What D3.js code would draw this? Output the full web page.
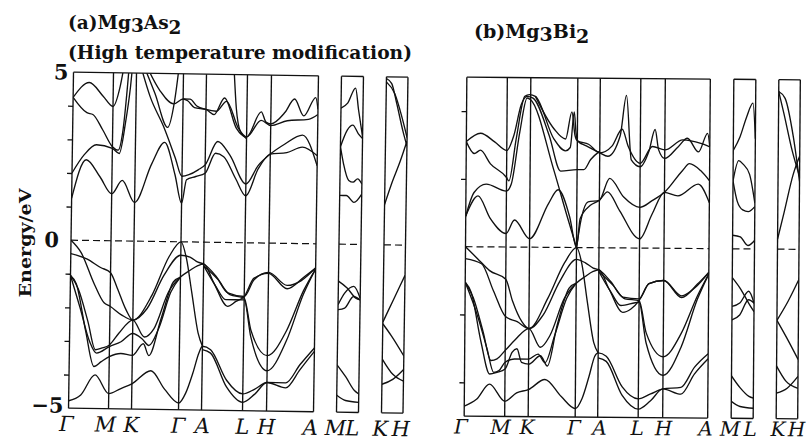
<!DOCTYPE html>
<html>
<head>
<meta charset="utf-8" />
<script src="https://d3js.org/d3.v7.min.js"></script>
<style>
  body { margin: 0; background: #fff; }
  svg text { font-family: "DejaVu Serif", serif; fill: #111; }
  .band { fill: none; stroke: #111; stroke-width: 1.35; }
  .frame { stroke: #111; stroke-width: 1.35; }
</style>
</head>
<body>
<svg id="chart" width="808" height="442"></svg>
<script>
// k-path labels (0..7 main path, 8-9 M-L box, 10-11 K-H box)
const kNames = ["Γ", "M", "K", "Γ", "A", "L", "H", "A", "M", "L", "K", "H"];
const tickA = [-4, -3, -2, -1, 1, 2, 3, 4];
const labelA = [5, 0, -5];
const tickB = [-4, -2, 2, 4];

// bands of (a) Mg3As2, [k, E/eV]
const bandsA = [
  [[0,1.25],[0.35,2.4],[0.7,1.9],[1,1.4],[1.45,1.8],[2,1.15],[2.35,2.3],[2.62,2.95],[2.85,2.0],[3,1.15],[3.2,1.85],[3.6,1.95],[4,2.05],[4.25,2.65],[4.45,2.55],[4.75,1.9],[5,1.4],[5.5,2.2],[6,2.65],[6.35,2.7],[6.68,2.87],[7,2.62]],
  [[0,2.0],[0.3,2.55],[0.6,2.85],[1,2.75],[1.3,2.6],[1.55,3.5],[1.75,4.6],[1.85,5.4]],
  [[0,4.25],[0.4,4.7],[0.75,4.3],[1,4.0],[1.3,4.6],[1.5,5.4]],
  [[0,4.25],[0.35,3.8],[0.5,3.75],[0.75,3.3],[1,2.8],[1.25,2.7],[1.45,3.3],[1.7,5.4]],
  [[2.05,5.4],[2.3,4.3],[2.6,3.4],[2.85,2.5],[3,1.95],[3.3,2.0],[3.7,2.15],[4,2.3],[4.3,3.0],[4.6,2.6],[5,1.75],[5.5,2.3],[6,2.65],[6.3,2.95],[6.68,3.23],[7,2.32]],
  [[2.1,5.4],[2.4,4.4],[2.68,3.4],[2.82,4.2],[2.92,5.4]],
  [[2.15,5.4],[2.5,4.5],[2.8,4.1],[3,4.25],[3.2,4.2],[3.5,4.0],[4,3.95],[4.2,3.8],[4.45,4.3],[4.75,3.4],[5,3.15],[5.6,3.9],[5.8,3.6],[6,3.55],[6.3,3.9],[6.5,4.3],[6.7,3.8],[6.95,4.35],[7,4.0]],
  [[3,4.25],[3.3,4.25],[3.6,4.05],[4,3.95],[4.25,3.9],[4.5,4.2],[4.8,3.4],[5,3.15],[5.6,3.65],[6,3.5],[6.35,3.65],[6.8,3.7],[7,3.85]],
  [[4.66,5.4],[4.74,4.0],[4.85,3.3],[5,3.1]],
  [[0,0],[0.25,-0.35],[0.6,-1.3],[0.85,-1.85],[1,-1.95],[1.5,-2.2],[2,-2.35],[2.4,-1.6],[2.75,-0.45],[3,0],[3.25,-0.5],[3.5,-1.5],[3.8,-2.7],[4,-3.1]],
  [[0,-0.4],[0.4,-0.55],[0.75,-0.8],[1,-0.95],[1.3,-1.4],[1.7,-2.05],[2,-2.35],[2.3,-2.0],[2.65,-1.0],[3,-0.4],[3.4,-0.45],[3.75,-0.6],[4,-0.65],[4.3,-1.0],[4.6,-1.5],[5,-1.6],[5.4,-1.1],[6,-0.87],[6.4,-1.25],[6.7,-1.1],[7,-0.72]],
  [[0,-1.05],[0.2,-1.45],[0.45,-2.4],[0.65,-3.25],[0.8,-3.2],[1,-3.1],[1.4,-2.75],[2,-2.35],[2.25,-2.85],[2.45,-2.6],[2.75,-1.5],[3,-1.05],[3.4,-0.85],[3.75,-0.7],[4,-0.65],[4.25,-1.2],[4.6,-1.9],[4.8,-1.75],[5,-1.6],[5.4,-1.05],[6,-0.9],[6.4,-1.35],[6.75,-1.0],[7,-0.72]],
  [[0,-1.05],[0.15,-1.3],[0.4,-2.7],[0.62,-3.75],[0.8,-3.6],[1,-3.45],[1.5,-3.35],[2,-3.4],[2.23,-3.05],[2.35,-3.4],[2.6,-2.3],[2.85,-1.2],[3,-1.05]],
  [[0,-1.05],[0.25,-2.0],[0.5,-3.0],[0.68,-3.35],[1,-3.15],[1.5,-3.0],[2,-2.75],[2.2,-2.9],[2.35,-3.1],[2.55,-2.6],[2.8,-1.5],[3,-1.05]],
  [[0,-4.78],[0.3,-4.6],[0.65,-4.0],[1,-4.55],[1.5,-4.4],[2,-4.25],[2.4,-3.85],[2.7,-4.4],[3,-4.8],[3.3,-4.5],[3.6,-3.9],[3.85,-3.3],[4,-3.1],[4.2,-3.2],[4.6,-4.1],[5,-4.5],[5.5,-4.35],[6,-4.15],[6.4,-4.15],[6.7,-3.6],[7,-3.1]],
  [[4,-3.2],[4.2,-3.3],[4.6,-4.3],[5,-4.75],[5.5,-4.5],[6,-4.15],[6.4,-4.3],[6.7,-3.75],[7,-3.2]],
  [[4,-0.7],[4.35,-1.1],[4.65,-1.55],[5,-1.65],[5.3,-2.6],[6,-3.35],[6.4,-2.6],[6.75,-1.4],[7,-0.75]],
  [[4,-0.7],[4.3,-1.3],[4.55,-1.7],[5,-1.7],[5.3,-2.8],[6,-3.8],[6.4,-2.9],[6.75,-1.5],[7,-0.75]],
  // M-L
  [[8,4.05],[8.3,4.2],[8.65,4.65],[8.8,4.0],[9,3.2]],
  [[8,2.9],[8.3,3.4],[8.55,3.55],[8.8,3.3],[9,3.15]],
  [[8,2.9],[8.15,2.4],[8.4,1.9],[8.6,1.85],[8.8,1.95],[9,1.8]],
  [[8,1.45],[8.3,1.45],[8.65,1.25],[9,1.5]],
  [[8,-1.1],[8.4,-1.3],[8.8,-1.6],[9,-1.65]],
  [[8,-1.95],[8.3,-1.9],[8.7,-1.55],[9,-1.65]],
  [[8,-1.8],[8.3,-1.45],[8.7,-1.25],[9,-1.6]],
  [[8,-3.6],[8.4,-3.95],[8.8,-4.35],[9,-4.45]],
  [[8,-4.5],[8.4,-4.65],[9,-4.7]],
  // K-H
  [[10,4.95],[10.25,4.8],[10.5,4.2],[10.8,3.4],[11,2.95]],
  [[10,4.85],[10.4,4.5],[10.75,3.8],[11,3.2]],
  [[10,1.2],[10.3,1.8],[10.7,2.5],[11,3.1]],
  [[10,-2.3],[10.5,-1.6],[11,-0.9]],
  [[10,-2.35],[10.4,-2.7],[11,-3.3]],
  [[10,-3.4],[10.5,-3.85],[11,-4.05]],
  [[10,-4.15],[10.5,-4.0],[11,-3.7]]
];

// bands of (b) Mg3Bi2, [k, E/eV]
const bandsB = [
  [[0,0.9],[0.3,1.5],[0.6,0.85],[1,0.4],[1.35,0.8],[2,0.25],[2.4,1.3],[2.6,1.7],[2.85,0.9],[3,0],[3.15,0.85],[3.6,1.25],[4,1.4],[4.2,1.65],[4.5,1.1],[5,0.27],[5.5,1.0],[6,1.65],[6.3,1.55],[6.75,1.9],[7,1.35]],
  [[0,0.9],[0.2,1.6],[0.5,1.85],[1,1.65],[1.2,1.85],[1.55,3.4],[1.85,4.4],[2.0,4.35],[2.5,2.3],[2.8,0.9],[3,0]],
  [[0,3.1],[0.35,3.35],[0.7,3.1],[1,2.85],[1.3,3.3],[1.6,4.2],[1.85,4.45],[2.05,4.4],[2.4,3.3],[2.65,2.25],[3,2.3],[3.3,2.3],[3.6,2.6],[4,2.85]],
  [[0,3.1],[0.2,2.75],[0.35,2.85],[0.6,2.45],[1,2.05],[1.1,1.95],[1.4,3.2],[1.75,4.45],[1.95,4.5],[2.1,4.45],[2.5,3.2],[2.75,2.85],[2.85,2.95],[2.93,4.0],[2.97,3.4],[3,3.15],[3.4,3.0],[4,2.8],[4.2,2.7],[4.5,3.3],[4.65,4.5],[4.78,2.6],[5,2.4],[5.35,2.85],[5.6,3.5],[5.75,2.9],[6,2.65],[6.3,3.0],[6.5,3.25],[6.75,2.85],[6.95,3.4],[7,3.0]],
  [[3,0],[3.2,0.85],[3.5,1.35],[4,1.4],[4.25,2.05],[4.6,1.5],[5,1.2],[5.5,1.4],[6,1.65],[6.4,2.3],[6.55,2.5],[6.8,2.3],[7,2.0]],
  [[2.1,4.45],[2.5,3.5],[2.75,3.2],[2.88,4.0],[2.95,3.3],[3,3.15],[3.5,3.05],[4,2.8],[4.3,3.0],[4.55,3.5],[4.7,3.0],[5,2.5],[5.5,3.0],[6,2.9],[6.4,3.2],[6.8,3.1],[7,3.0]],
  [[0,0],[0.3,-0.35],[0.6,-0.7],[1,-0.95],[1.3,-1.6],[1.7,-2.2],[2,-2.4],[2.4,-1.5],[2.75,-0.45],[3,0],[3.25,-0.5],[3.5,-1.6],[3.8,-2.8],[4,-3.1]],
  [[0,-0.35],[0.4,-0.5],[0.7,-1.3],[1,-2.05],[1.5,-2.2],[2,-2.4],[2.3,-2.0],[2.65,-1.0],[3,-0.35],[3.4,-0.45],[3.75,-0.6],[4,-0.65],[4.3,-1.0],[4.6,-1.45],[5,-1.5],[5.4,-1.05],[6,-0.95],[6.4,-1.4],[6.7,-1.15],[7,-0.7]],
  [[0,-1.05],[0.2,-1.5],[0.45,-2.5],[0.65,-3.35],[0.8,-3.3],[1,-3.05],[1.4,-2.75],[2,-2.4],[2.25,-2.95],[2.45,-2.6],[2.75,-1.5],[3,-1.05],[3.4,-0.85],[3.75,-0.7],[4,-0.65],[4.25,-1.2],[4.6,-1.9],[4.8,-1.8],[5,-1.55],[5.4,-1.05],[6,-0.95],[6.4,-1.45],[6.75,-1.05],[7,-0.7]],
  [[0,-1.05],[0.15,-1.35],[0.4,-2.8],[0.62,-3.75],[0.8,-3.7],[1,-3.6],[1.3,-3.1],[1.5,-3.0],[1.7,-3.4],[2,-3.45],[2.25,-3.2],[2.4,-3.5],[2.6,-2.3],[2.85,-1.2],[3,-1.05]],
  [[0,-1.05],[0.3,-2.0],[0.55,-3.0],[0.72,-3.7],[0.85,-3.65],[1,-3.4],[1.4,-3.3],[2,-3.3],[2.2,-3.15],[2.35,-3.4],[2.55,-2.6],[2.8,-1.5],[3,-1.05]],
  [[0,-4.7],[0.3,-4.5],[0.62,-4.05],[1,-4.55],[1.5,-4.3],[2,-4.2],[2.35,-3.9],[2.7,-4.4],[3,-4.75],[3.3,-4.45],[3.6,-3.8],[3.85,-3.2],[4,-3.1],[4.2,-3.2],[4.6,-4.1],[5,-4.45],[5.5,-4.3],[6,-4.15],[6.4,-4.1],[6.7,-3.5],[7,-3.1]],
  [[4,-3.25],[4.2,-3.35],[4.6,-4.35],[5,-4.75],[5.5,-4.5],[6,-4.15],[6.4,-4.3],[6.7,-3.7],[7,-3.25]],
  [[4,-0.7],[4.35,-1.1],[4.65,-1.5],[5,-1.55],[5.3,-2.5],[6,-3.2],[6.4,-2.5],[6.75,-1.4],[7,-0.75]],
  [[4,-0.7],[4.3,-1.3],[4.55,-1.7],[5,-1.6],[5.3,-2.8],[6,-3.75],[6.4,-2.9],[6.75,-1.5],[7,-0.75]],
  // M-L
  [[8,2.9],[8.3,3.3],[8.6,3.9],[8.88,4.3],[9,3.25]],
  [[8,2.0],[8.25,2.6],[8.45,2.5],[8.75,2.2],[9,1.35]],
  [[8,2.0],[8.2,1.4],[8.45,1.15],[8.7,1.1],[9,1.25]],
  [[8,0.4],[8.35,0.35],[8.7,0.1],[9,0.25]],
  [[8,-0.85],[8.4,-1.2],[8.8,-1.65],[9,-1.85]],
  [[8,-2.1],[8.35,-1.95],[8.75,-1.5],[9,-1.6]],
  [[8,-1.7],[8.35,-1.6],[8.75,-1.25],[9,-1.6]],
  [[8,-3.75],[8.4,-4.1],[8.8,-4.35],[9,-4.4]],
  [[8,-4.5],[8.4,-4.65],[9,-4.7]],
  // K-H
  [[10,4.65],[10.3,4.45],[10.7,3.3],[11,2.0]],
  [[10,4.65],[10.25,4.0],[10.65,2.9],[11,2.15]],
  [[10,0.3],[10.3,1.1],[10.7,2.2],[11,2.75]],
  [[10,-2.1],[10.5,-1.55],[11,-0.9]],
  [[10,-2.1],[10.45,-2.6],[11,-3.25]],
  [[10,-3.45],[10.45,-3.9],[11,-4.1]],
  [[10,-4.25],[10.5,-4.1],[11,-3.75]]
];

const svg = d3.select("#chart");

function drawPanel(id, cfg, bands, ticks, labels) {
  const g = svg.append("g")
    .attr("transform", "rotate(" + cfg.rot + "," + cfg.cx + "," + cfg.cy + ")");

  const x = d3.scaleLinear().domain(d3.range(12)).range(cfg.kx);
  const y = d3.scaleLinear().domain([-5, 5]).range([cfg.bottom, cfg.top]);
  const frames = [[0, 7], [8, 9], [10, 11]];

  frames.forEach((f, i) => {
    g.append("clipPath").attr("id", id + "clip" + i)
      .append("rect")
      .attr("x", x(f[0])).attr("y", y(5))
      .attr("width", x(f[1]) - x(f[0])).attr("height", y(-5) - y(5));
  });

  const line = d3.line()
    .x(d => x(d[0]))
    .y(d => y(d[1]))
    .curve(d3.curveMonotoneX);

  g.selectAll(".band")
    .data(bands)
    .enter()
    .append("path")
    .attr("class", "band")
    .attr("clip-path", d => "url(#" + id + "clip" + (d[0][0] >= 10 ? 2 : d[0][0] >= 8 ? 1 : 0) + ")")
    .attr("d", line);

  // vertical lines at every k point
  g.selectAll(".kline")
    .data(d3.range(12))
    .enter()
    .append("line")
    .attr("class", "frame")
    .attr("x1", d => x(d)).attr("x2", d => x(d))
    .attr("y1", y(5)).attr("y2", y(-5));

  frames.forEach(f => {
    [5, -5].forEach(e => {
      g.append("line").attr("class", "frame")
        .attr("x1", x(f[0])).attr("x2", x(f[1]))
        .attr("y1", y(e)).attr("y2", y(e));
    });
    g.append("line")
      .attr("x1", x(f[0])).attr("x2", x(f[1]))
      .attr("y1", y(0)).attr("y2", y(0))
      .attr("stroke", "#111").attr("stroke-width", 1.2)
      .attr("stroke-dasharray", "7,4");
  });

  // energy ticks
  g.append("g")
    .attr("transform", "translate(" + x(0) + ",0)")
    .call(d3.axisLeft(y).tickValues(ticks).tickSize(5).tickSizeOuter(0).tickFormat(""))
    .call(a => a.select(".domain").remove())
    .selectAll("line").attr("stroke", "#111").attr("stroke-width", 1.3);

  if (labels) {
    const ax = g.append("g")
      .attr("transform", "translate(" + x(0) + ",0)")
      .call(d3.axisLeft(y).tickValues(labels).tickSize(0).tickPadding(5).tickFormat(d3.format("d")));
    ax.select(".domain").remove();
    ax.selectAll("text")
      .attr("font-family", "DejaVu Serif, serif")
      .attr("font-size", 21)
      .attr("font-weight", "bold")
      .attr("fill", "#111")
      .attr("dx", d => d === 0 ? -7 : 0)
      .attr("dy", d => d === -5 ? "0.2em" : "0.32em");
  }

  // k labels
  g.selectAll(".klab")
    .data(kNames)
    .enter()
    .append("text")
    .attr("x", (d, i) => x(i) + (cfg.kdx[i] || 0))
    .attr("y", cfg.labelY)
    .attr("text-anchor", "middle")
    .attr("font-style", "italic")
    .attr("font-size", cfg.labelSize)
    .text(d => d);
}

drawPanel("a", {
  rot: 0.85, cx: 194, cy: 242,
  kx: [71, 111, 134, 181, 204, 245, 269, 316, 339, 361, 384, 405.5],
  top: 74, bottom: 410, labelY: 433, labelSize: 21,
  kdx: [-2, -3, 0, 0, 1, 0, 0, -3, -1, -6, -1, -2]
}, bandsA, tickA, labelA);

drawPanel("b", {
  rot: 0.45, cx: 632, cy: 248,
  kx: [465.5, 506, 529.5, 576.5, 599, 639.5, 664, 709, 732.5, 754.5, 777.5, 799],
  top: 78.5, bottom: 417.5, labelY: 435, labelSize: 20,
  kdx: [-3, -4, -1, -1, 2, -1, 1, -2, -1, -3, 2, -1]
}, bandsB, tickB, null);

// titles (subscript digits lowered with dy)
const t1 = svg.append("text").attr("x", 68).attr("y", 29)
  .attr("font-size", 18.5).attr("font-weight", "bold");
t1.append("tspan").text("(a)Mg");
t1.append("tspan").attr("dy", 3).text("3");
t1.append("tspan").attr("dy", -3).text("As");
t1.append("tspan").attr("dy", 5).text("2");

svg.append("text").attr("x", 68).attr("y", 59)
  .attr("font-size", 18).attr("font-weight", "bold")
  .attr("textLength", 344).attr("lengthAdjust", "spacingAndGlyphs")
  .text("(High temperature modification)");

const t2 = svg.append("text").attr("x", 474).attr("y", 38)
  .attr("font-size", 19).attr("font-weight", "bold");
t2.append("tspan").text("(b)Mg");
t2.append("tspan").attr("dy", 3).text("3");
t2.append("tspan").attr("dy", -3).text("Bi");
t2.append("tspan").attr("dy", 5).text("2");

svg.append("text")
  .attr("transform", "translate(31,243) rotate(-90)")
  .attr("text-anchor", "middle")
  .attr("font-size", 17).attr("font-weight", "bold")
  .attr("textLength", 109).attr("lengthAdjust", "spacingAndGlyphs")
  .text("Energy/eV");
</script>
</body>
</html>
